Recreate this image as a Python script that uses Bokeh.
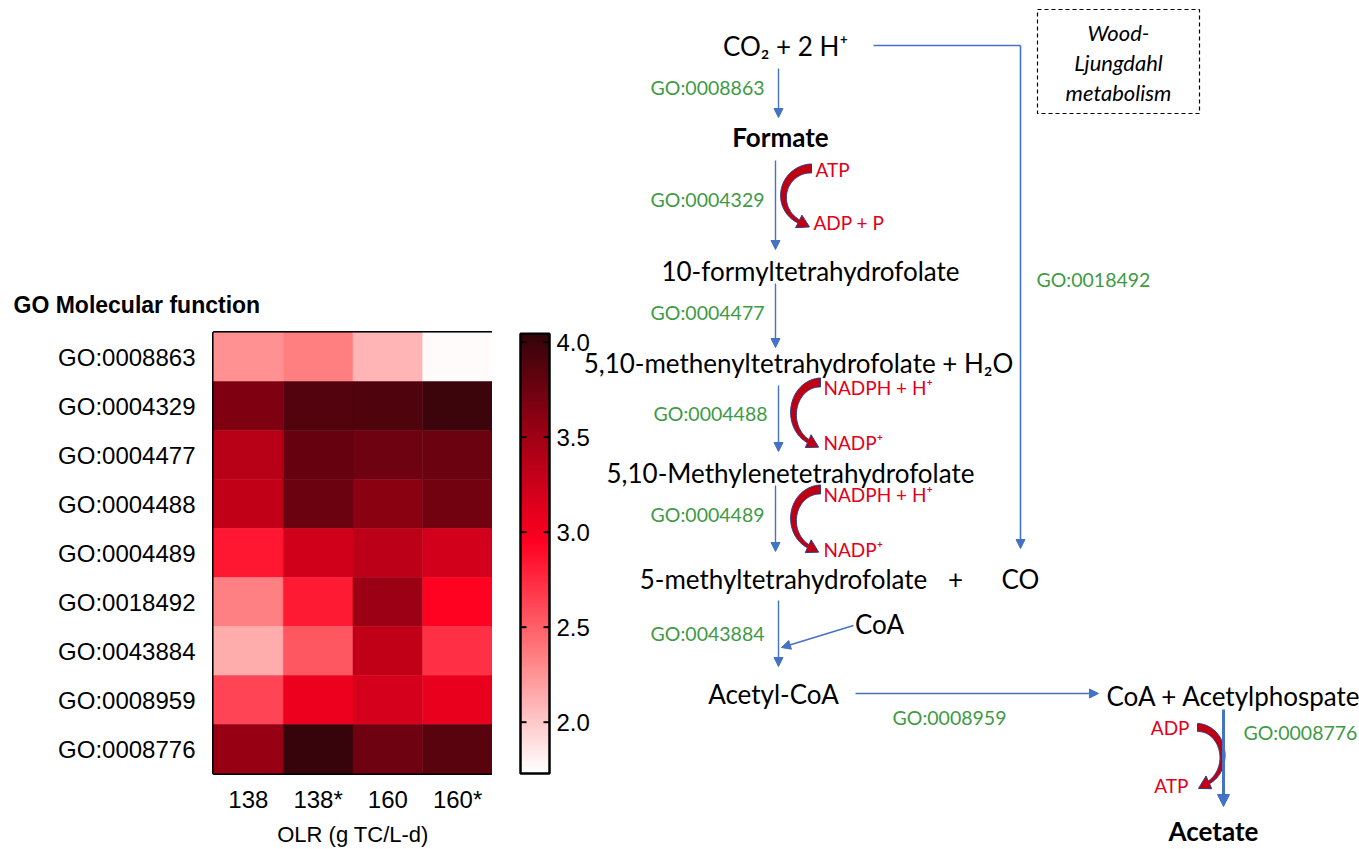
import numpy as np
import pandas as pd
from bokeh.plotting import figure
from bokeh.layouts import row
from bokeh.models import (ColumnDataSource, LinearColorMapper, Arrow, NormalHead, Range1d)
from bokeh.core.properties import value
from bokeh.embed import file_html
from bokeh.resources import INLINE

# ---------------- data ----------------
olr = ["138", "138*", "160", "160*"]
go_terms = ["GO:0008863", "GO:0004329", "GO:0004477", "GO:0004488", "GO:0004489",
            "GO:0018492", "GO:0043884", "GO:0008959", "GO:0008776"]
v_138 = [2.26, 3.66, 3.36, 3.31, 2.85, 2.34, 2.13, 2.62, 3.54]
v_138s = [2.35, 3.89, 3.79, 3.77, 3.22, 2.83, 2.54, 3.05, 4.01]
v_160 = [2.09, 3.90, 3.74, 3.61, 3.33, 3.52, 3.31, 3.19, 3.74]
v_160s = [1.75, 3.99, 3.77, 3.72, 3.21, 2.95, 2.72, 3.08, 3.85]
cbar_ticks = [2.0, 2.5, 3.0, 3.5, 4.0]
cbar_labels = ["2.0", "2.5", "3.0", "3.5", "4.0"]
c_low, c_high = 1.73, 4.044

# colour scale stops (value, colour)
stops = [(1.73, (255, 255, 255)), (2.34, (255, 128, 130)), (2.95, (255, 0, 32)),
         (3.5, (160, 0, 20)), (4.044, (51, 4, 10))]


def make_palette(n=256):
    vs = np.linspace(c_low, c_high, n)
    sv = [s[0] for s in stops]
    out = []
    for v in vs:
        rgb = [int(round(np.interp(v, sv, [s[1][k] for s in stops]))) for k in range(3)]
        out.append("#%02x%02x%02x" % tuple(rgb))
    return out


palette = make_palette()

rows_l, cols_l, vals_l = [], [], []
for c, series in zip(olr, [v_138, v_138s, v_160, v_160s]):
    for g, v in zip(go_terms, series):
        rows_l.append(g)
        cols_l.append(c)
        vals_l.append(v)
df = pd.DataFrame({"go": rows_l, "olr": cols_l, "val": vals_l})
src = ColumnDataSource(df)

mapper = LinearColorMapper(palette=palette, low=c_low, high=c_high)

HFONT = "Liberation Sans"
p1 = figure(x_range=olr, y_range=list(reversed(go_terms)),
            frame_width=279, frame_height=441,
            min_border_left=213, min_border_top=332, min_border_bottom=76, min_border_right=0,
            output_backend="svg", toolbar_location=None)
p1.frame_align = False
p1.rect(x="olr", y="go", width=1, height=1, source=src,
        fill_color={"field": "val", "transform": mapper},
        line_color={"field": "val", "transform": mapper}, line_width=0.5)
p1.outline_line_color = "black"
p1.outline_line_width = 3
p1.grid.grid_line_color = None
p1.axis.axis_line_color = None
p1.axis.major_tick_line_color = None
p1.axis.minor_tick_line_color = None
p1.axis.major_label_text_font = HFONT
p1.axis.major_label_text_font_size = "24px"
p1.axis.major_label_text_color = "black"
p1.yaxis.major_label_standoff = 12
p1.xaxis.major_label_standoff = 6
p1.xaxis.axis_label = "OLR (g TC/L-d)"
p1.xaxis.axis_label_text_font = HFONT
p1.xaxis.axis_label_text_font_size = "22px"
p1.xaxis.axis_label_text_font_style = "normal"
p1.xaxis.axis_label_text_color = "black"
p1.xaxis.axis_label_standoff = 6
p1.title.text = "GO Molecular function"
p1.title.text_font = HFONT
p1.title.text_font_size = "23px"
p1.title.text_font_style = "bold"
p1.title.text_color = "black"
p1.title.align = "left"
p1.title.offset = -200
p1.title.standoff = 29

# ---------------- pathway diagram (+ colour bar) ----------------
BLUE = "#4472C4"
GREEN = "#3E9A45"
RED = "#E2001A"
DFONT = "Lato"

p2 = figure(x_range=Range1d(492, 1359), y_range=Range1d(849, 0),
            width=867, height=849, min_border=0,
            x_axis_type=None, y_axis_type=None,
            output_backend="svg", toolbar_location=None)
p2.frame_align = False
p2.outline_line_color = None
p2.grid.grid_line_color = None
# value scale of the colour bar (2.0 -> 721.7 px, 4.0 -> 341.7 px from top)
p2.extra_y_ranges = {"cb": Range1d(1.330, 5.798)}

grad = np.linspace(c_low, c_high, 300).reshape(-1, 1)
p2.image(image=[grad], x=520, y=c_low, dw=29, dh=c_high - c_low, color_mapper=mapper,
         y_range_name="cb")
p2.quad(left=[520], right=[549], bottom=[c_low], top=[c_high], fill_color=None,
        line_color="black", line_width=2.5, y_range_name="cb")
p2.segment(x0=[520] * 5, x1=[526] * 5, y0=cbar_ticks, y1=cbar_ticks, line_color="black",
           line_width=2, y_range_name="cb")
p2.segment(x0=[543] * 5, x1=[549] * 5, y0=cbar_ticks, y1=cbar_ticks, line_color="black",
           line_width=2, y_range_name="cb")
p2.text(x=[556] * 5, y=cbar_ticks, text=cbar_labels, text_font=value(HFONT),
        text_font_size="24px", text_align="left", text_baseline="middle",
        text_color="black", y_range_name="cb")

# black compound labels (centre x, centre y)
cmp_text = ["CO\u2082 + 2 H\u207a", "10-formyltetrahydrofolate",
            "5,10-methenyltetrahydrofolate + H\u2082O", "5,10-Methylenetetrahydrofolate",
            "5-methyltetrahydrofolate", "+", "CO", "CoA", "Acetyl-CoA"]
cmp_x = [785, 810, 798, 790, 783, 955, 1020, 879, 773]
cmp_y = [45, 270, 362, 472, 578, 578, 578, 623, 693]
p2.text(x=cmp_x, y=cmp_y, text=cmp_text, text_font=value(DFONT), text_font_size="26px",
        text_align="center", text_baseline="middle", text_color="black")
p2.text(x=[1106], y=[695], text=["CoA + Acetylphospate"], text_font=value(DFONT),
        text_font_size="26px", text_align="left", text_baseline="middle", text_color="black")
p2.text(x=[780, 1213], y=[136, 830], text=["Formate", "Acetate"], text_font=value(DFONT),
        text_font_size="26px", text_font_style="bold", text_align="center",
        text_baseline="middle", text_color="black")

# green GO labels
gr_text = ["GO:0008863", "GO:0004329", "GO:0004477", "GO:0004488", "GO:0004489", "GO:0043884"]
gr_x = [764, 764, 764, 767, 764, 764]
gr_y = [87, 199, 312, 413, 514, 633]
p2.text(x=gr_x, y=gr_y, text=gr_text, text_font=value(DFONT), text_font_size="19.5px",
        text_align="right", text_baseline="middle", text_color=GREEN)
p2.text(x=[1036, 1243], y=[279, 732], text=["GO:0018492", "GO:0008776"], text_font=value(DFONT),
        text_font_size="19.5px", text_align="left", text_baseline="middle", text_color=GREEN)
p2.text(x=[949], y=[717], text=["GO:0008959"], text_font=value(DFONT), text_font_size="19.5px",
        text_align="center", text_baseline="middle", text_color=GREEN)

# red cofactor labels
rd_text = ["ATP", "ADP + P", "NADPH + H\u207a", "NADP\u207a", "NADPH + H\u207a", "NADP\u207a"]
rd_x = [815, 813, 823, 823, 823, 823]
rd_y = [169, 222, 387, 442, 494, 549]
p2.text(x=rd_x, y=rd_y, text=rd_text, text_font=value(DFONT), text_font_size="19px",
        text_align="left", text_baseline="middle", text_color=RED)
p2.text(x=[1189, 1188], y=[727, 785], text=["ADP", "ATP"], text_font=value(DFONT),
        text_font_size="19px", text_align="right", text_baseline="middle", text_color=RED)

# Wood-Ljungdahl box
p2.quad(left=[1037], right=[1199], top=[9], bottom=[113], fill_color=None,
        line_color="black", line_dash="4 3", line_width=1.2)
p2.text(x=[1118, 1118, 1118], y=[32, 62, 92], text=["Wood-", "Ljungdahl", "metabolism"],
        text_font=value(DFONT), text_font_size="22px", text_font_style="italic",
        text_align="center", text_baseline="middle", text_color="black")

# blue reaction arrows
arrows = [((778, 68), (778, 117), 1.4), ((775, 160), (775, 249), 1.4),
          ((775, 283), (775, 347), 1.4), ((778, 385), (778, 451), 1.4),
          ((775, 485), (775, 551), 1.4), ((1020, 45), (1020, 548), 1.6),
          ((778, 600), (778, 666), 1.4), ((853, 625), (781, 647), 1.4),
          ((855, 693), (1098, 693), 1.4)]
for (xs, ys), (xe, ye), lw in arrows:
    p2.add_layout(Arrow(end=NormalHead(size=9, fill_color=BLUE, line_color=BLUE),
                        x_start=xs, y_start=ys, x_end=xe, y_end=ye,
                        line_color=BLUE, line_width=lw))
p2.line(x=[873, 1020], y=[45, 45], line_color=BLUE, line_width=1.6)


def crescent(cx, cy, rx, ry, side, w0=9.0, w1=3.5, phi_end=63, head_len=12, head_w=7):
    phis = np.radians(np.linspace(-90, phi_end, 50))
    w = np.linspace(w0, w1, len(phis))
    ox = cx + side * (rx + w / 2) * np.cos(phis)
    oy = cy + (ry + w / 2) * np.sin(phis)
    ix = cx + side * (rx - w / 2) * np.cos(phis)
    iy = cy + (ry - w / 2) * np.sin(phis)
    pe = phis[-1]
    ex, ey = cx + side * rx * np.cos(pe), cy + ry * np.sin(pe)
    tx, ty = -side * rx * np.sin(pe), ry * np.cos(pe)
    n = np.hypot(tx, ty)
    tx, ty = tx / n, ty / n
    nx, ny = ex - cx, ey - cy
    m = np.hypot(nx, ny)
    nx, ny = nx / m, ny / m
    tip = (ex + tx * head_len, ey + ty * head_len)
    ob = (ex + nx * head_w, ey + ny * head_w)
    ib = (ex - nx * head_w, ey - ny * head_w)
    xs = list(ox) + [ob[0], tip[0], ib[0]] + list(ix[::-1])
    ys = list(oy) + [ob[1], tip[1], ib[1]] + list(iy[::-1])
    return xs, ys


cres = [crescent(811, 196, 28, 28, -1), crescent(820, 413, 27, 31, -1),
        crescent(820, 519, 27, 30, -1), crescent(1197, 756, 25, 29, 1, w0=8, w1=3)]
p2.patches(xs=[c[0] for c in cres], ys=[c[1] for c in cres], fill_color="#C00010",
           line_color="#2B3A8C", line_width=1)

# thick arrow to acetate
p2.add_layout(Arrow(end=NormalHead(size=12, fill_color=BLUE, line_color=BLUE),
                    x_start=1223, y_start=709, x_end=1223, y_end=806,
                    line_color=BLUE, line_width=3))

layout = row(p1, p2, spacing=0)
open("out.html", "w").write(file_html(layout, INLINE))
